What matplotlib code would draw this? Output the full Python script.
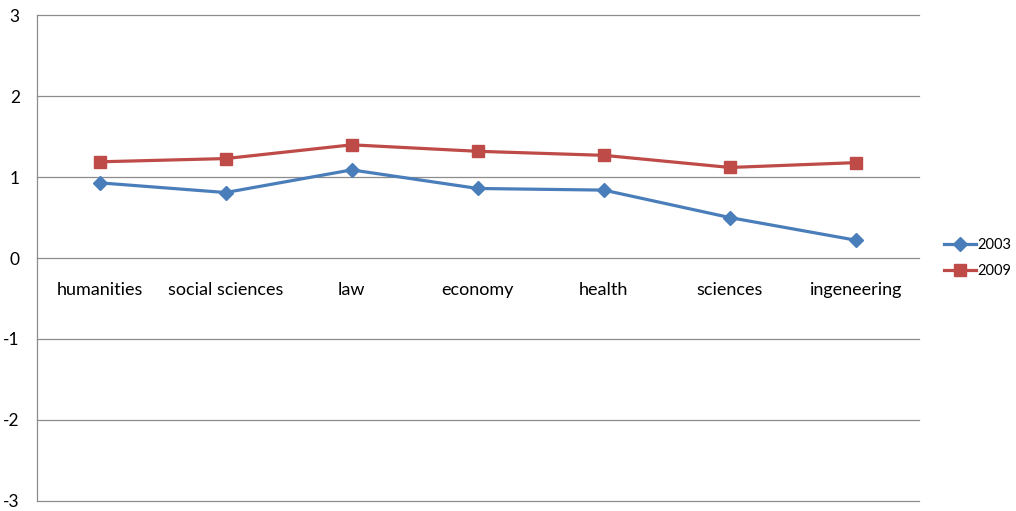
import matplotlib
matplotlib.use("Agg")
import matplotlib.pyplot as plt

categories = ["humanities", "social sciences", "law", "economy", "health", "sciences", "ingeneering"]
values_2003 = [0.93, 0.81, 1.09, 0.86, 0.84, 0.50, 0.22]
values_2009 = [1.19, 1.23, 1.40, 1.32, 1.27, 1.12, 1.18]
y_ticks = [-3, -2, -1, 0, 1, 2, 3]

plt.rcParams['font.family'] = ['Lato', 'DejaVu Sans']

W, H = 1016, 511
fig = plt.figure(figsize=(W / 100, H / 100), dpi=100)
left, right, top, bottom = 36.5, 919, 15.5, 500.5
ax = fig.add_axes([left / W, 1 - bottom / H, (right - left) / W, (bottom - top) / H])

x = list(range(len(categories)))
ax.plot(x, values_2003, color="#4A7EBB", lw=2.3, marker="D", ms=7, label="2003", zorder=3)
ax.plot(x, values_2009, color="#BE4B48", lw=2.3, marker="s", ms=8.5, label="2009", zorder=3)

ax.set_xlim(-0.5, len(categories) - 0.5)
ax.set_ylim(-3, 3)
ax.set_yticks(y_ticks)
ax.set_yticklabels([str(v) for v in y_ticks])
ax.yaxis.grid(True, color="#8c8c8c", lw=0.9)
for gl in ax.get_ygridlines():
    gl.set_clip_on(False)
ax.set_axisbelow(True)

for s in ["top", "right"]:
    ax.spines[s].set_visible(False)
ax.spines["left"].set_color("#8c8c8c")
ax.spines["left"].set_linewidth(0.9)
ax.spines["bottom"].set_position(("data", 0))
ax.spines["bottom"].set_visible(False)

ax.set_xticks(x)
ax.set_xticklabels(categories)
ax.tick_params(axis="x", length=0, pad=17.5, labelsize=13, colors="black")
ax.tick_params(axis="y", length=0, pad=12, labelsize=12.5, colors="black")

leg = fig.legend(loc="center left", bbox_to_anchor=(931 / W, 1 - 258 / H),
                 frameon=False, fontsize=10.5, handlelength=2.2, handletextpad=0.1,
                 labelspacing=0.8)

fig.savefig("out.png", dpi=100)
